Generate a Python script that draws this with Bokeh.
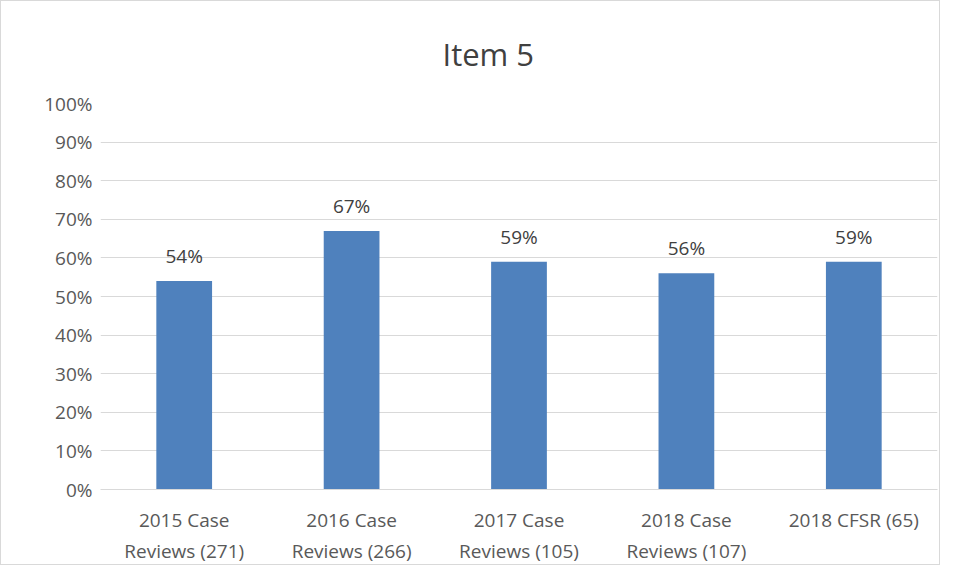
from bokeh.plotting import figure
from bokeh.models import ColumnDataSource, FactorRange, Range1d, NumeralTickFormatter, FixedTicker, LabelSet
from bokeh.core.properties import value
from bokeh.embed import file_html
from bokeh.resources import INLINE

categories = ["2015 Case\nReviews (271)", "2016 Case\nReviews (266)", "2017 Case\nReviews (105)",
              "2018 Case\nReviews (107)", "2018 CFSR (65)"]
values = [0.54, 0.67, 0.59, 0.56, 0.59]
labels = ["54%", "67%", "59%", "56%", "59%"]
yticks = [0, 0.1, 0.2, 0.3, 0.4, 0.5, 0.6, 0.7, 0.8, 0.9, 1.0]

src = ColumnDataSource(dict(x=categories, top=values, label=labels))

p = figure(width=940, height=565, x_range=FactorRange(*categories, range_padding=0),
           y_range=Range1d(0, 1.0), output_backend="svg", toolbar_location=None,
           min_border_left=99, min_border_right=4, min_border_top=101, min_border_bottom=77)
p.styles = {"border": "1px solid #d9d9d9"}
p.vbar(x="x", top="top", width=0.333, source=src, fill_color="#4F81BD", line_color=None)

p.add_layout(LabelSet(x="x", y="top", text="label", source=src, text_align="center",
                      text_baseline="bottom", y_offset=12, text_font=value("Open Sans"),
                      text_font_size="19px", text_color="#404040"))

p.title.text = "Item 5"
p.title.align = "left"
p.title.text_font = "Open Sans"
p.title.text_font_size = "31px"
p.title.text_font_style = "normal"
p.title.text_color = "#404040"
p.title.offset = 342
p.title.standoff = 58

p.outline_line_color = None
p.xgrid.grid_line_color = None
p.ygrid.grid_line_color = "#d9d9d9"
p.ygrid.ticker = FixedTicker(ticks=yticks)
p.yaxis.ticker = FixedTicker(ticks=yticks)
p.yaxis.formatter = NumeralTickFormatter(format="0%")
p.yaxis.axis_line_color = None
p.yaxis.major_tick_line_color = None
p.yaxis.minor_tick_line_color = None
p.yaxis.major_tick_out = 0
p.yaxis.minor_tick_out = 0
p.yaxis.major_label_text_font = "Open Sans"
p.yaxis.major_label_text_font_size = "19px"
p.yaxis.major_label_text_color = "#595959"
p.yaxis.major_label_standoff = 8

p.xaxis.axis_line_color = "#d9d9d9"
p.xaxis.major_tick_line_color = None
p.xaxis.minor_tick_line_color = None
p.xaxis.major_tick_out = 0
p.xaxis.minor_tick_out = 0
p.xaxis.major_label_text_font = "Open Sans"
p.xaxis.major_label_text_font_size = "19px"
p.xaxis.major_label_text_color = "#595959"
p.xaxis.major_label_standoff = 17
p.xaxis.major_label_orientation = "horizontal"

open("out.html", "w").write(file_html(p, INLINE))
